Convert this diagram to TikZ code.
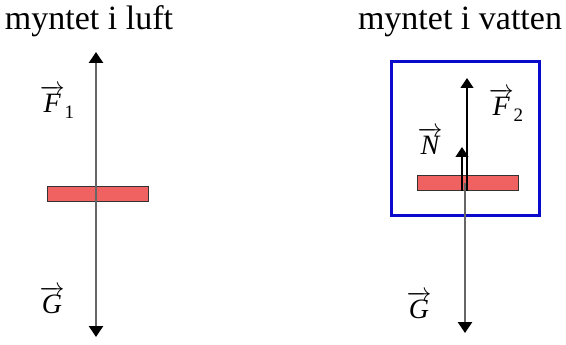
\documentclass[tikz,border=0pt]{standalone}
\usepackage{amsmath}
\usepackage{fontspec}
\setmainfont{Liberation Serif}
\usepackage{xcolor}
\usetikzlibrary{arrows.meta}

\definecolor{coinred}{RGB}{240,98,98}
\definecolor{boxblue}{RGB}{10,10,205}
\newcommand{\forcevec}[1]{$\overrightarrow{\text{\itshape #1}}$}

\begin{document}
\begin{tikzpicture}[
    x=1pt, y=-1pt,
    title/.style={anchor=base, inner sep=0pt, font=\fontsize{34}{34}\selectfont},
    coin/.style={rectangle, draw=black!80, fill=coinred, line width=0.8pt, minimum width=101pt, minimum height=15pt, inner sep=0pt},
    force/.style={draw, line width=2.6pt, black!60, -{Triangle[width=14pt,length=11pt,color=black]}},
    thin force/.style={draw, line width=1.3pt, black, -{Triangle[width=13pt,length=10pt]}},
    lab/.style={inner sep=0pt, font=\fontsize{28}{28}\selectfont}
]
    \useasboundingbox (0,0) rectangle (566,345);

    \node [title] (luft) at (89,30) {myntet i luft};
    \node [title] (vatten) at (460,30) {myntet i vatten};

    \node [coin] (coin1) at (97.5,193.5) {};
    \coordinate (top1) at (96,52);
    \coordinate (bot1) at (96,337);
    \path [force] (coin1.center -| top1) -- (top1);
    \path [force] (coin1.center -| bot1) -- (bot1);
    \node [lab] (F1) at (57,102) {\forcevec{F}\raisebox{-6pt}{\fontsize{19}{19}\selectfont 1}};
    \node [lab] (G1) at (52,300) {\forcevec{G}};

    \draw [boxblue, line width=3pt] (391,62) rectangle (539,215);
    \node [coin] (coin2) at (467.5,183) {};
    \coordinate (top2) at (467,78);
    \coordinate (ntop) at (462,147);
    \coordinate (bot2) at (465,333);
    \path [force] (coin2.center -| bot2) -- (bot2);
    \path [thin force] (coin2.south -| top2) -- (top2);
    \path [thin force] (coin2.south -| ntop) -- (ntop);
    \node [lab] (F2) at (506,105) {\forcevec{F}\raisebox{-6pt}{\fontsize{19}{19}\selectfont 2}};
    \node [lab] (N) at (430,141) {\forcevec{N}};
    \node [lab] (G2) at (419,305) {\forcevec{G}};
\end{tikzpicture}
\end{document}
